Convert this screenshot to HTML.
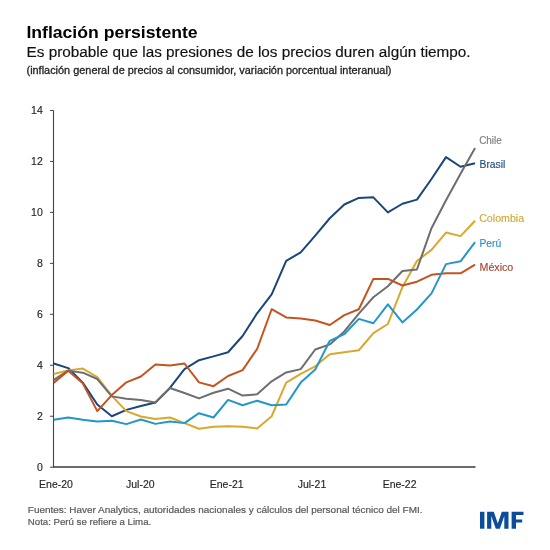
<!DOCTYPE html>
<html><head><meta charset="utf-8">
<style>
html,body{margin:0;padding:0;background:#fff;}
body{width:550px;height:550px;overflow:hidden;position:relative;}
svg{position:absolute;left:0;top:0;will-change:transform;}
text{font-family:"Liberation Sans",sans-serif;}
.tk{font-size:10.5px;fill:#262626;stroke:#262626;stroke-width:0.15px;}
.sl{font-size:11px;stroke-width:0.15px;}
</style></head><body>
<svg width="550" height="550" viewBox="0 0 550 550">
<text x="26.4" y="38.1" font-weight="bold" font-size="16" fill="#000" textLength="171.2" lengthAdjust="spacingAndGlyphs">Inflación persistente</text>
<text x="26.6" y="56.7" font-size="14" fill="#111" stroke="#111" stroke-width="0.15" textLength="444" lengthAdjust="spacingAndGlyphs">Es probable que las presiones de los precios duren algún tiempo.</text>
<text x="26.5" y="73.8" font-size="10.8" fill="#222" stroke="#222" stroke-width="0.3" textLength="365" lengthAdjust="spacingAndGlyphs">(inflación general de precios al consumidor, variación porcentual interanual)</text>
<line x1="53.5" y1="110.5" x2="53.5" y2="467.5" stroke="#444" stroke-width="1.1"/>
<line x1="50" y1="467.20" x2="53.7" y2="467.20" stroke="#444" stroke-width="1"/><text x="42.8" y="471.10" text-anchor="end" class="tk">0</text><line x1="50" y1="416.24" x2="53.7" y2="416.24" stroke="#444" stroke-width="1"/><text x="42.8" y="420.14" text-anchor="end" class="tk">2</text><line x1="50" y1="365.28" x2="53.7" y2="365.28" stroke="#444" stroke-width="1"/><text x="42.8" y="369.18" text-anchor="end" class="tk">4</text><line x1="50" y1="314.32" x2="53.7" y2="314.32" stroke="#444" stroke-width="1"/><text x="42.8" y="318.22" text-anchor="end" class="tk">6</text><line x1="50" y1="263.36" x2="53.7" y2="263.36" stroke="#444" stroke-width="1"/><text x="42.8" y="267.26" text-anchor="end" class="tk">8</text><line x1="50" y1="212.40" x2="53.7" y2="212.40" stroke="#444" stroke-width="1"/><text x="42.8" y="216.30" text-anchor="end" class="tk">10</text><line x1="50" y1="161.44" x2="53.7" y2="161.44" stroke="#444" stroke-width="1"/><text x="42.8" y="165.34" text-anchor="end" class="tk">12</text><line x1="50" y1="110.48" x2="53.7" y2="110.48" stroke="#444" stroke-width="1"/><text x="42.8" y="114.38" text-anchor="end" class="tk">14</text>
<polyline points="53.70,363.50 68.23,368.08 82.76,382.61 97.29,404.52 111.82,416.24 126.35,409.87 140.88,406.05 155.41,402.48 169.94,387.96 184.47,369.10 199.00,360.18 213.53,356.36 228.06,352.29 242.59,335.98 257.12,313.30 271.65,294.45 286.18,260.81 300.71,252.40 315.24,235.59 329.77,218.26 344.30,204.50 358.83,197.88 373.36,197.37 387.89,212.40 402.42,203.74 416.95,199.66 431.48,179.02 446.01,157.11 460.54,166.79 475.07,163.22" fill="none" stroke="#1c4679" stroke-width="2.0" stroke-linejoin="round" stroke-linecap="butt"/><polyline points="53.70,373.94 68.23,370.38 82.76,368.59 97.29,377.00 111.82,395.86 126.35,411.14 140.88,416.49 155.41,419.04 169.94,417.51 184.47,423.12 199.00,428.73 213.53,426.69 228.06,426.18 242.59,426.69 257.12,428.47 271.65,416.24 286.18,382.61 300.71,373.94 315.24,366.30 329.77,354.32 344.30,352.29 358.83,350.25 373.36,333.18 387.89,324.00 402.42,287.06 416.95,261.07 431.48,249.86 446.01,232.53 460.54,236.10 475.07,220.81" fill="none" stroke="#d9a82c" stroke-width="2.0" stroke-linejoin="round" stroke-linecap="butt"/><polyline points="53.70,379.80 68.23,370.63 82.76,372.67 97.29,379.04 111.82,396.37 126.35,398.66 140.88,399.93 155.41,402.48 169.94,387.96 184.47,393.05 199.00,398.40 213.53,392.80 228.06,388.72 242.59,395.60 257.12,394.33 271.65,381.33 286.18,372.41 300.71,369.10 315.24,349.48 329.77,344.39 344.30,331.39 358.83,313.56 373.36,297.25 387.89,286.29 402.42,271.00 416.95,269.48 431.48,228.20 446.01,200.17 460.54,173.67 475.07,147.94" fill="none" stroke="#6e6e6e" stroke-width="2.0" stroke-linejoin="round" stroke-linecap="butt"/><polyline points="53.70,382.86 68.23,370.63 82.76,383.37 97.29,411.14 111.82,395.09 126.35,382.35 140.88,376.49 155.41,364.52 169.94,365.53 184.47,363.50 199.00,382.35 213.53,386.17 228.06,375.98 242.59,370.12 257.12,348.97 271.65,309.22 286.18,317.38 300.71,318.40 315.24,320.44 329.77,325.02 344.30,315.08 358.83,309.22 373.36,278.90 387.89,278.90 402.42,285.53 416.95,281.71 431.48,274.83 446.01,273.30 460.54,273.30 475.07,264.63" fill="none" stroke="#c4541f" stroke-width="2.0" stroke-linejoin="round" stroke-linecap="butt"/><polyline points="53.70,419.81 68.23,417.51 82.76,419.81 97.29,421.59 111.82,420.83 126.35,424.14 140.88,419.55 155.41,423.88 169.94,421.59 184.47,423.12 199.00,413.18 213.53,417.51 228.06,399.93 242.59,405.28 257.12,400.70 271.65,405.28 286.18,404.52 300.71,382.61 315.24,369.61 329.77,340.82 344.30,334.19 358.83,318.91 373.36,323.24 387.89,304.38 402.42,322.47 416.95,309.48 431.48,293.43 446.01,264.12 460.54,261.32 475.07,242.21" fill="none" stroke="#2596c8" stroke-width="2.0" stroke-linejoin="round" stroke-linecap="butt"/>
<line x1="53" y1="467" x2="475.5" y2="467" stroke="#3a3a3a" stroke-width="1.4"/>
<text x="56" y="488" text-anchor="middle" class="tk">Ene-20</text><text x="140.3" y="488" text-anchor="middle" class="tk">Jul-20</text><text x="226.7" y="488" text-anchor="middle" class="tk">Ene-21</text><text x="312" y="488" text-anchor="middle" class="tk">Jul-21</text><text x="399.6" y="488" text-anchor="middle" class="tk">Ene-22</text>
<text x="479.2" y="144.1" fill="#7a7a7a" stroke="#7a7a7a" class="sl" textLength="22.6" lengthAdjust="spacingAndGlyphs">Chile</text><text x="479.5" y="167.6" fill="#1f4b7e" stroke="#1f4b7e" class="sl" textLength="25.9" lengthAdjust="spacingAndGlyphs">Brasil</text><text x="479.2" y="222.2" fill="#d0a838" stroke="#d0a838" class="sl" textLength="44.9" lengthAdjust="spacingAndGlyphs">Colombia</text><text x="479.5" y="246.7" fill="#2a8fc0" stroke="#2a8fc0" class="sl" textLength="21.7" lengthAdjust="spacingAndGlyphs">Perú</text><text x="479.5" y="271.2" fill="#a84530" stroke="#a84530" class="sl" textLength="33.8" lengthAdjust="spacingAndGlyphs">México</text>
<text x="27.8" y="513.2" font-size="9.2" fill="#595959" stroke="#595959" stroke-width="0.2" textLength="394.7" lengthAdjust="spacingAndGlyphs">Fuentes: Haver Analytics, autoridades nacionales y cálculos del personal técnico del FMI.</text>
<text x="27.8" y="525" font-size="9.2" fill="#595959" stroke="#595959" stroke-width="0.2" textLength="123.4" lengthAdjust="spacingAndGlyphs">Nota: Perú se refiere a Lima.</text>
<g fill="#0b4d9b"><rect x="480" y="511.8" width="4.4" height="16.9"/><polygon points="487.1,528.7 487.1,511.8 493.8,511.8 497.8,523.5 501.8,511.8 508.5,511.8 508.5,528.7 504.3,528.7 504.3,516 499.8,528.7 495.8,528.7 491.3,516 491.3,528.7"/><polygon points="511.6,528.7 511.6,511.8 523.5,511.8 523.5,515.1 516,515.1 516,519.4 522.2,519.4 522.2,522.6 516,522.6 516,528.7"/></g>
</svg>
</body></html>
